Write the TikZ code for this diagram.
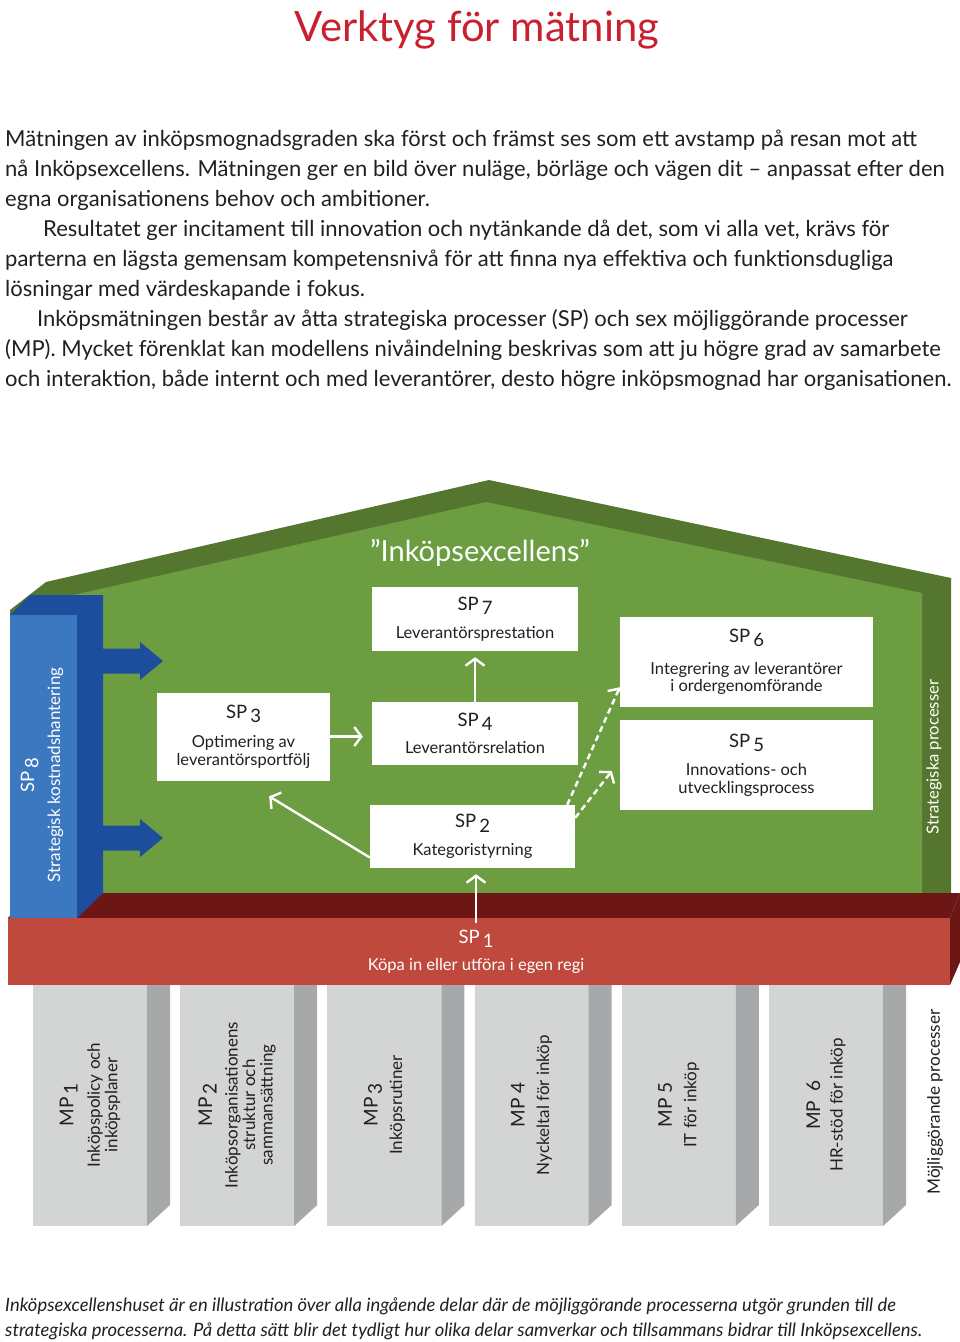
\documentclass[tikz,border=0pt]{standalone}
\usepackage{fontspec}
\setmainfont{Lato}
\usetikzlibrary{arrows.meta}

\definecolor{roofgreen}{HTML}{55762F}
\definecolor{wallgreen}{HTML}{6D9D41}
\definecolor{bluefront}{HTML}{3B78C0}
\definecolor{blueside}{HTML}{1D4E9E}
\definecolor{redfront}{HTML}{C0493E}
\definecolor{redtop}{HTML}{6C1616}
\definecolor{greyfront}{HTML}{D3D4D4}
\definecolor{greyside}{HTML}{A6A8A9}
\definecolor{titlered}{HTML}{C9202F}
\definecolor{inkdark}{HTML}{231F20}

\newcommand{\lownum}[1]{\,\raisebox{-0.45ex}{#1}}
\newcommand{\spfont}{\fontsize{18.5}{20}\selectfont}
\newcommand{\mpfont}{\fontsize{19}{20}\selectfont}

\tikzset{
  spbox/.style={fill=white, inner sep=0pt, align=center, text=inkdark,
    font=\fontsize{16.5}{17.5}\selectfont},
  mplabel/.style={inner sep=0pt, align=center, text=inkdark,
    font=\fontsize{17}{17.5}\selectfont},
  sidelabel/.style={inner sep=0pt, align=center, font=\fontsize{17}{18}\selectfont},
  warrow/.style={draw=white, line width=2.4pt, -{Straight Barb[length=7pt,width=19pt]}},
  dasharrow/.style={warrow, dash pattern=on 6pt off 4pt}
}

\begin{document}
\begin{tikzpicture}[x=1pt,y=-1pt]
\useasboundingbox (0,0) rectangle (960,1342);
\fill[white] (0,0) rectangle (960,1342);

% title and text
\node[anchor=base, text=titlered, font=\fontsize{41.8}{44}\selectfont] (title) at (477,41) {Verktyg för mätning};

\foreach \txt [count=\i from 0] in {
  {Mätningen av inköpsmognadsgraden ska först och främst ses som ett avstamp på resan mot att},
  {nå Inköpsexcellens. Mätningen ger en bild över nuläge, börläge och vägen dit – anpassat efter den},
  {egna organisationens behov och ambitioner.},
  {\hspace*{38pt}Resultatet ger incitament till innovation och nytänkande då det, som vi alla vet, krävs för},
  {parterna en lägsta gemensam kompetensnivå för att finna nya effektiva och funktionsdugliga},
  {lösningar med värdeskapande i fokus.},
  {\hspace*{32pt}Inköpsmätningen består av åtta strategiska processer (SP) och sex möjliggörande processer},
  {(MP). Mycket förenklat kan modellens nivåindelning beskrivas som att ju högre grad av samarbete},
  {och interaktion, både internt och med leverantörer, desto högre inköpsmognad har organisationen.}}
  \node[anchor=base west, inner sep=0pt, text=inkdark, font=\fontsize{22}{24}\selectfont] (para\i) at (5,{146+30.1*\i}) {\txt};

% roof and wall
\fill[roofgreen] (10,610) -- (46,582) -- (489,480) -- (951,578) -- (951,893) -- (10,893) -- cycle;
\fill[wallgreen] (60,598) -- (486,502) -- (922,593) -- (922,893) -- (60,893) -- cycle;
\node[text=white, font=\fontsize{29}{30}\selectfont] (house) at (480,553) {”Inköpsexcellens”};

% red band SP1
\fill[redtop] (8,918) -- (30,893) -- (960,893) -- (950,918) -- cycle;
\fill[redtop] (950,918) -- (960,893) -- (960,962) -- (950,985) -- cycle;
\fill[redfront] (8,918) rectangle (950,985);

% blue column SP8
\fill[blueside] (10,615) -- (30,595) -- (103,595) -- (103,893) -- (77,918) -- (77,615) -- cycle;
\fill[bluefront] (10,615) rectangle (77,918);
\foreach \ay in {661,838}
  \fill[blueside] (103,\ay-12.5) -- (140,\ay-12.5) -- (140,\ay-19) -- (163,\ay)
    -- (140,\ay+19) -- (140,\ay+12.5) -- (103,\ay+12.5) -- cycle;
\node[sidelabel, text=white, rotate=90] (sp8) at (42,775)
  {{\spfont SP\lownum{8}}\\[8pt]Strategisk kostnadshantering};
\node[sidelabel, text=white, rotate=90, font=\fontsize{16.6}{18}\selectfont] (strat) at (934,757) {Strategiska processer};

% pillars MP
\foreach \i in {0,...,5} {
  \pgfmathsetmacro\px{33+147.2*\i}
  \fill[greyfront] (\px,985) rectangle (\px+114,1226);
  \fill[greyside] (\px+114,985) -- (\px+137,985) -- (\px+137,1205) -- (\px+114,1226) -- cycle;
}
\foreach \i/\lbl in {
  0/{{\mpfont MP\lownum{1}}\\[9pt]Inköpspolicy och\\inköpsplaner},
  1/{{\mpfont MP\lownum{2}}\\[8pt]Inköpsorganisationens\\struktur och\\sammansättning},
  2/{{\mpfont MP\lownum{3}}\\[7pt]Inköpsrutiner},
  3/{{\mpfont MP 4}\\[7pt]Nyckeltal för inköp},
  4/{{\mpfont MP 5}\\[7pt]IT för inköp},
  5/{{\mpfont MP\ \ 6}\\[5pt]HR-stöd för inköp}}
  \node[mplabel, rotate=90] (mp\i) at ({90+147.2*\i},1105) {\lbl};
\node[sidelabel, text=inkdark, rotate=90, font=\fontsize{17.2}{18}\selectfont] (enable) at (935,1102) {Möjliggörande processer};

% SP boxes
\node[spbox, minimum width=206pt, minimum height=64pt] (sp7) at (475,619)
  {{\spfont SP\lownum{7}}\\[11pt]Leverantörsprestation};
\node[spbox, minimum width=253pt, minimum height=90pt] (sp6) at (746.5,662)
  {{\spfont SP\lownum{6}}\\[14pt]Integrering av leverantörer\\i ordergenomförande};
\node[spbox, minimum width=173pt, minimum height=88pt] (sp3) at (243.5,736.5)
  {{\spfont SP\lownum{3}}\\[12pt]Optimering av\\leverantörsportfölj};
\node[spbox, minimum width=206pt, minimum height=63pt] (sp4) at (475,733.5)
  {{\spfont SP\lownum{4}}\\[10pt]Leverantörsrelation};
\node[spbox, minimum width=253pt, minimum height=90pt] (sp5) at (746.5,765)
  {{\spfont SP\lownum{5}}\\[11pt]Innovations- och\\utvecklingsprocess};
\node[spbox, minimum width=205pt, minimum height=63pt] (sp2) at (472.5,836.5)
  {{\spfont SP\lownum{2}}\\[10pt]Kategoristyrning};
\node[spbox, fill=none, text=white, anchor=north] (sp1) at (476,930)
  {{\spfont SP\lownum{1}}\\[9pt]Köpa in eller utföra i egen regi};

% arrows
\draw[warrow, shorten >=9pt] (sp3.east) -- (sp3.east -| sp4.west);
\draw[warrow, shorten >=6pt] (sp4.north) -- (sp7.south);
\draw[warrow, shorten >=30pt] ([yshift=-21pt]sp2.west) -- (sp3.south);
\draw[warrow, shorten >=6pt] ([yshift=7pt]sp1.north) -- (sp1.north |- sp2.south);
\draw[dasharrow] ([xshift=-8pt]sp2.north east) -- ([yshift=20pt]sp6.south west);
\draw[dasharrow] ([yshift=-13pt]sp2.north east) -- ([xshift=-8pt,yshift=-6pt]sp5.west);

% caption
\node[anchor=base west, inner sep=0pt, text=inkdark, font=\fontsize{18.4}{20}\itshape] (cap0) at (5,1311)
  {Inköpsexcellenshuset är en illustration över alla ingående delar där de möjliggörande processerna utgör grunden till de};
\node[anchor=base west, inner sep=0pt, text=inkdark, font=\fontsize{18.4}{20}\itshape] (cap1) at (5,1336)
  {strategiska processerna. På detta sätt blir det tydligt hur olika delar samverkar och tillsammans bidrar till Inköpsexcellens.};
\end{tikzpicture}
\end{document}
